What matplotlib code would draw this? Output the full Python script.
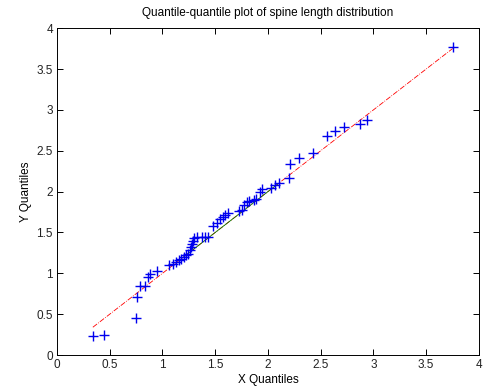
import numpy as np
import matplotlib
matplotlib.use("Agg")
import matplotlib.pyplot as plt

# sorted quantile pairs
x_q = [0.34, 0.45, 0.75, 0.76, 0.79, 0.83, 0.86, 0.88, 0.95,
       1.06, 1.10, 1.13, 1.16, 1.18, 1.20, 1.22, 1.245, 1.26, 1.27,
       1.28, 1.29, 1.30, 1.33, 1.37, 1.40, 1.43, 1.48, 1.52, 1.55,
       1.57, 1.59, 1.62, 1.73, 1.75, 1.77, 1.80, 1.82, 1.87, 1.89,
       1.92, 1.94, 2.03, 2.07, 2.10, 2.20, 2.21, 2.29, 2.43, 2.56,
       2.64, 2.72, 2.87, 2.94, 3.75]
y_q = [0.23, 0.24, 0.45, 0.71, 0.84, 0.85, 0.95, 0.99, 1.03,
       1.10, 1.12, 1.14, 1.16, 1.18, 1.20, 1.22, 1.24, 1.28, 1.32,
       1.36, 1.40, 1.43, 1.44, 1.44, 1.44, 1.45, 1.58, 1.62, 1.66,
       1.69, 1.71, 1.74, 1.76, 1.78, 1.83, 1.87, 1.88, 1.90, 1.91,
       1.99, 2.03, 2.05, 2.08, 2.11, 2.17, 2.34, 2.41, 2.47, 2.68,
       2.74, 2.79, 2.83, 2.87, 3.77]

# reference line (y = slope*x + intercept)
fit_slope = 1.0
fit_intercept = 0.0
# solid part of the line, between the quartiles
quart_x = [1.2, 2.1]

ticks = [0, 0.5, 1, 1.5, 2, 2.5, 3, 3.5, 4]
tick_labels = ['0', '0.5', '1', '1.5', '2', '2.5', '3', '3.5', '4']

plt.rcParams['font.family'] = ['Liberation Sans', 'DejaVu Sans']
plt.rcParams['font.size'] = 8.5

fig = plt.figure(figsize=(4.85, 3.91), dpi=100)
ax = fig.add_axes([0.1175, 0.092, 0.870, 0.836])

x = np.array(x_q)
line = lambda v: fit_slope * np.asarray(v) + fit_intercept

ax.plot(x, y_q, '+', color='#0000ee', markersize=7.5, markeredgewidth=1.0, zorder=3)
ax.plot([x.min(), x.max()], line([x.min(), x.max()]), '-.', color='#ff0000',
        linewidth=0.6, zorder=1)
ax.plot(quart_x, line(quart_x), '-', color='#008000', linewidth=0.6, zorder=2)

ax.set_xlim(0, 4)
ax.set_ylim(0, 4)
ax.set_xticks(ticks)
ax.set_xticklabels(tick_labels)
ax.set_yticks(ticks)
ax.set_yticklabels(tick_labels)
ax.tick_params(direction='in', length=4, width=0.7, top=True, right=True,
               colors='black', labelcolor='#222222', pad=3)
for s in ax.spines.values():
    s.set_linewidth(0.7)

ax.set_title("Quantile-quantile plot of spine length distribution", fontsize=8.5, pad=9)
ax.set_xlabel("X Quantiles", labelpad=2)
ax.set_ylabel("Y Quantiles", labelpad=3)

fig.savefig("out.png", dpi=100)
